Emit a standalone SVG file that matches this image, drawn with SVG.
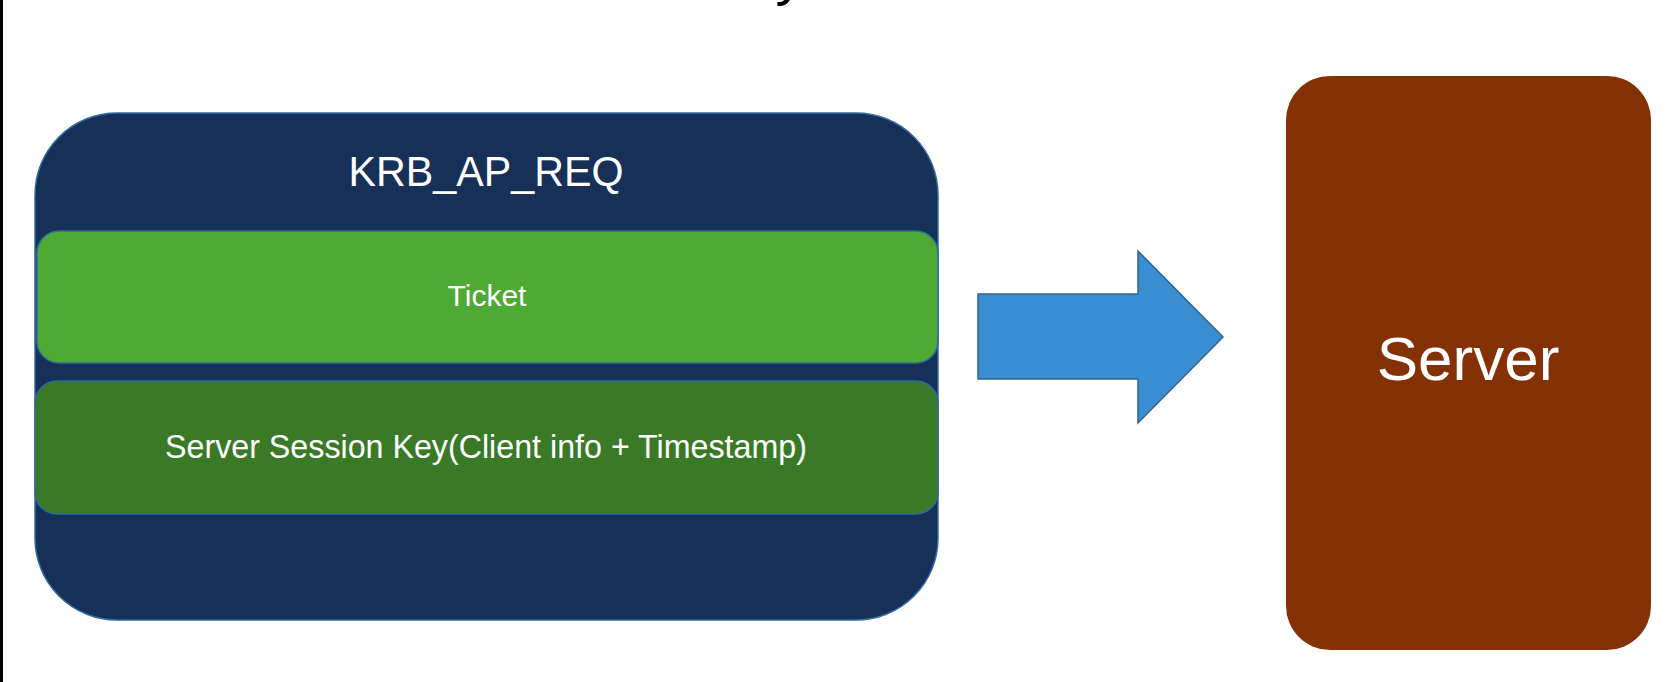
<svg xmlns="http://www.w3.org/2000/svg" width="1671" height="682" viewBox="0 0 1671 682">
  <style>
    .lbl { font-family: "Liberation Sans", Arial, sans-serif; fill: #ffffff; text-anchor: middle; }
    .edge { stroke: #2F6B9E; stroke-width: 1.5; }
  </style>
  <rect x="0" y="0" width="1671" height="682" fill="#ffffff"/>
  <rect x="0" y="0" width="3" height="682" fill="#000000"/>
  <text x="790" y="-6" font-family="Liberation Sans, Arial, sans-serif" font-size="58" fill="#000000" text-anchor="middle">y</text>

  <g id="krb_ap_req">
    <rect class="edge" x="35" y="113" width="903" height="507" rx="82" ry="82" fill="#163058"/>
    <text class="lbl" x="486" y="186" font-size="42" textLength="275" lengthAdjust="spacingAndGlyphs">KRB_AP_REQ</text>
  </g>
  <g id="ticket">
    <rect class="edge" x="37" y="231" width="901" height="132" rx="22" ry="22" fill="#4FAA33"/>
    <text class="lbl" x="487" y="306" font-size="30">Ticket</text>
  </g>
  <g id="session_key">
    <rect class="edge" x="35" y="381" width="903" height="133" rx="22" ry="22" fill="#3A7A27"/>
    <text class="lbl" x="486" y="458" font-size="33" textLength="642" lengthAdjust="spacingAndGlyphs">Server Session Key(Client info + Timestamp)</text>
  </g>
  <g id="server">
    <rect x="1286" y="76" width="365" height="574" rx="44" ry="44" fill="#843105"/>
    <text class="lbl" x="1468" y="380" font-size="62">Server</text>
  </g>
  <g id="connectors">
    <polygon points="978,294 1138,294 1138,251 1223,337 1138,423 1138,379 978,379" fill="#3A8FD2" stroke="#2F6591" stroke-width="1.5" stroke-linejoin="miter"/>
  </g>
</svg>
